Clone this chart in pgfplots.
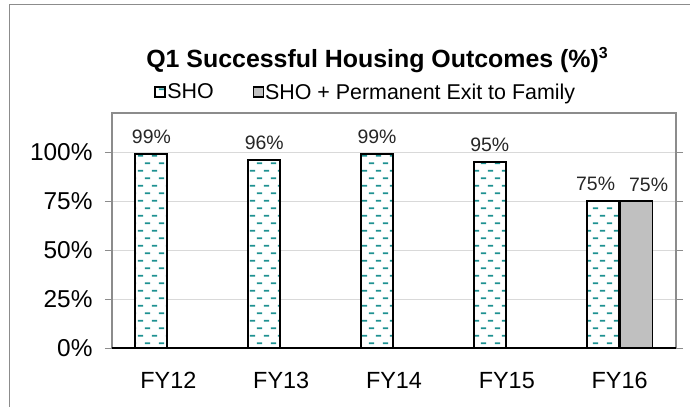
\documentclass[border=0pt]{standalone}
\usepackage{fontspec}
\setmainfont{Liberation Sans}
\usepackage{pgfplots}
\pgfplotsset{compat=1.18}
\usetikzlibrary{patterns}

\definecolor{dashteal}{RGB}{30,145,145}
\definecolor{barGray}{RGB}{192,192,192}
\definecolor{gridGray}{RGB}{217,217,217}
\definecolor{frameGray}{RGB}{140,140,140}

% teal dashes, staggered rows
\pgfdeclarepatternformonly{tealdash}{\pgfpointorigin}{\pgfqpoint{14.5pt}{15pt}}{\pgfqpoint{14.5pt}{15pt}}{%
  \pgfsetlinewidth{1.7pt}%
  \pgfpathmoveto{\pgfqpoint{1pt}{3.75pt}}\pgfpathlineto{\pgfqpoint{6.5pt}{3.75pt}}%
  \pgfpathmoveto{\pgfqpoint{8.25pt}{11.25pt}}\pgfpathlineto{\pgfqpoint{13.75pt}{11.25pt}}%
  \pgfusepath{stroke}%
}

\begin{document}
\begin{tikzpicture}[x=1bp,y=1bp]
\useasboundingbox (-112,-58) rectangle (582,348);
\draw[frameGray, line width=1bp] (-102,-70) -- (-102,344) -- (578,344);
\begin{axis}[
    at={(0,0)}, anchor=south west,
    scale only axis,
    width=564bp, height=235bp,
    ybar, bar width=32bp,
    xmin=-0.5, xmax=4.5,
    ymin=0, ymax=120,
    xtick={0,...,4},
    xticklabels={FY12, FY13, FY14, FY15, FY16},
    x tick label style={font=\fontsize{23.5}{23.5}\selectfont, yshift=-14bp},
    major x tick style={draw=none},
    extra x ticks={-0.5,0.5,...,4.5},
    extra x tick labels={},
    extra x tick style={grid=none, tick style={draw=frameGray, line width=0.8bp}, major tick length=7bp},
    ytick={0,25,...,100},
    yticklabel={\pgfmathprintnumber{\tick}\%},
    y tick label style={font=\fontsize{24.5}{24.5}\selectfont, xshift=-9bp},
    /pgf/number format/assume math mode=true,
    ymajorgrids, grid style={gridGray, line width=0.8bp},
    tick align=outside, major tick length=7bp,
    tick style={frameGray, line width=0.8bp},
    axis line style={frameGray, line width=1.6bp},
    nodes near coords={\pgfmathprintnumber{\pgfplotspointmeta}\%},
    every node near coord/.append style={font=\fontsize{19.5}{19.5}\selectfont, inner sep=0pt, yshift=9bp, text=black!85},
    legend style={draw=none, fill=none, at={(0.449,1.089)}, anchor=center,
        font=\fontsize{21.5}{21.5}\selectfont, legend columns=2,
        /tikz/every even column/.append style={column sep=38bp},
        nodes={inner sep=1bp}},
    legend image code/.code={\draw[#1] (0bp,-5bp) rectangle (10bp,5bp);},
    clip=false,
]
\addplot[draw=black, line width=2bp, fill=white, postaction={pattern=tealdash, pattern color=dashteal},
    visualization depends on=x \as \xv,
    every node near coord/.append style={xshift={-7*(\xv>3.5)}}]
    coordinates {(0,99) (1,96) (2,99) (3,95) (4,75)};
\addlegendentry{SHO}
\addplot[draw=black, line width=1.3bp, fill=barGray,
    every node near coord/.append style={xshift=12bp}]
    coordinates {(4,75)};
\addlegendentry{SHO + Permanent Exit to Family}
\draw[black, line width=1.6bp] (rel axis cs:0,0) -- (rel axis cs:1,0);
\node[font=\bfseries\fontsize{25}{25}\selectfont] at (rel axis cs:0.47,1.225) {Q1 Successful Housing Outcomes (\%)\raisebox{0.35em}{\fontsize{16}{16}\selectfont 3}};
\end{axis}
\end{tikzpicture}
\end{document}
